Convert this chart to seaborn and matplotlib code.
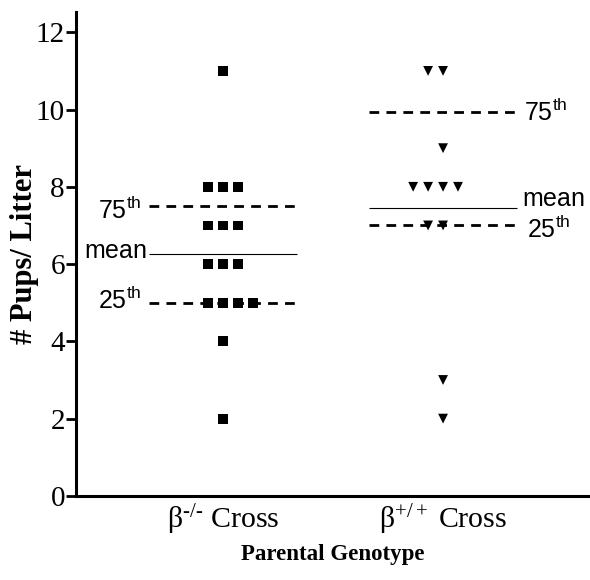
import numpy as np
import pandas as pd
import matplotlib
matplotlib.use("Agg")
import matplotlib.pyplot as plt
import seaborn as sns

# values
groups = ["$\\mathrm{\\beta}^{\u2010/\u2010}$ Cross", "$\\mathrm{\\beta}^{+/+}$ Cross"]
ko_pups = [11, 8, 8, 8, 7, 7, 7, 6, 6, 6, 5, 5, 5, 5, 4, 2]
wt_pups = [11, 11, 9, 8, 8, 8, 8, 7, 7, 3, 2]
p25 = [5.0, 7.0]
p75 = [7.5, 9.93]
yticks = [0, 2, 4, 6, 8, 10, 12]

sns.set_style("ticks")
plt.rcParams["font.family"] = ["Liberation Serif", "DejaVu Serif"]
plt.rcParams["mathtext.fontset"] = "custom"
plt.rcParams["mathtext.rm"] = "Liberation Serif"
plt.rcParams["mathtext.it"] = "Liberation Serif:italic"
plt.rcParams["mathtext.sf"] = "Liberation Sans"
for k in ["text.color", "axes.labelcolor", "xtick.color", "ytick.color", "axes.edgecolor"]:
    plt.rcParams[k] = "black"


def dot_offsets(vals, step, bias):
    # spread equal values sideways, like a column scatter
    vals = np.asarray(vals)
    off = np.zeros(len(vals))
    for v in np.unique(vals):
        idx = np.where(vals == v)[0]
        n = len(idx)
        base = np.arange(n) - (n - 1) // 2 if bias > 0 else np.arange(n) - n // 2
        off[idx] = base * step
    return off


step = 0.068
rows = []
for gi, (vals, bias) in enumerate([(ko_pups, 1), (wt_pups, -1)]):
    xs = gi + dot_offsets(vals, step, bias)
    for x, v in zip(xs, vals):
        rows.append({"x": x, "pups": v, "group": gi})
df = pd.DataFrame(rows)

fig = plt.figure(figsize=(5.9, 5.8), dpi=100)
ax = fig.add_axes([0.129, 0.145, 0.871, 0.834])

sns.scatterplot(data=df[df.group == 0], x="x", y="pups", marker="s", s=50,
                color="black", edgecolor="none", ax=ax, zorder=3)
sns.scatterplot(data=df[df.group == 1], x="x", y="pups", marker="v", s=50,
                color="black", edgecolor="none", ax=ax, zorder=3)

means = [np.mean(ko_pups), np.mean(wt_pups)]
half = 0.335
lab_kw = dict(fontsize=18, va="center", color="black")
for gi in range(2):
    x0, x1 = gi - half, gi + half
    ax.hlines(means[gi], x0, x1, colors="black", linewidth=0.8, zorder=2)
    ax.hlines([p25[gi], p75[gi]], x0, x1 + 0.01, colors="black",
              linewidth=2.0, linestyles=(0, (3.5, 2.6)), zorder=2)
    if gi == 0:
        ax.text(x0 - 0.01, means[gi] + 0.05, r"$\mathsf{mean}$", ha="right", **lab_kw)
        ax.text(x0 - 0.035, p75[gi] - 0.1, r"$\mathsf{75^{th}}$", ha="right", **lab_kw)
        ax.text(x0 - 0.035, p25[gi] + 0.05, r"$\mathsf{25^{th}}$", ha="right", **lab_kw)
    else:
        ax.text(x1 + 0.025, means[gi] + 0.2, r"$\mathsf{mean}$", ha="left", **lab_kw)
        ax.text(x1 + 0.035, p75[gi], r"$\mathsf{75^{th}}$", ha="left", **lab_kw)
        ax.text(x1 + 0.045, p25[gi] - 0.1, r"$\mathsf{25^{th}}$", ha="left", **lab_kw)

ax.set_xlim(-0.668, 1.668)
ax.set_ylim(0, 12.52)
ax.set_xticks([0, 1])
ax.set_xticklabels(groups, fontsize=21.5)
ax.set_yticks(yticks)
ax.set_yticklabels([str(t) for t in yticks], fontsize=21)
ax.tick_params(axis="y", direction="out", length=7, width=2, pad=1, left=True)
ax.tick_params(axis="x", length=0, pad=5)

ax.set_xlabel("Parental Genotype", fontsize=16.5, fontweight="bold", labelpad=5)
ax.set_ylabel("# Pups/ Litter", fontsize=22, fontweight="bold", labelpad=-2)

sns.despine(ax=ax, top=True, right=True)
for s in ["left", "bottom"]:
    ax.spines[s].set_linewidth(2.2)

fig.savefig("out.png", dpi=100)
